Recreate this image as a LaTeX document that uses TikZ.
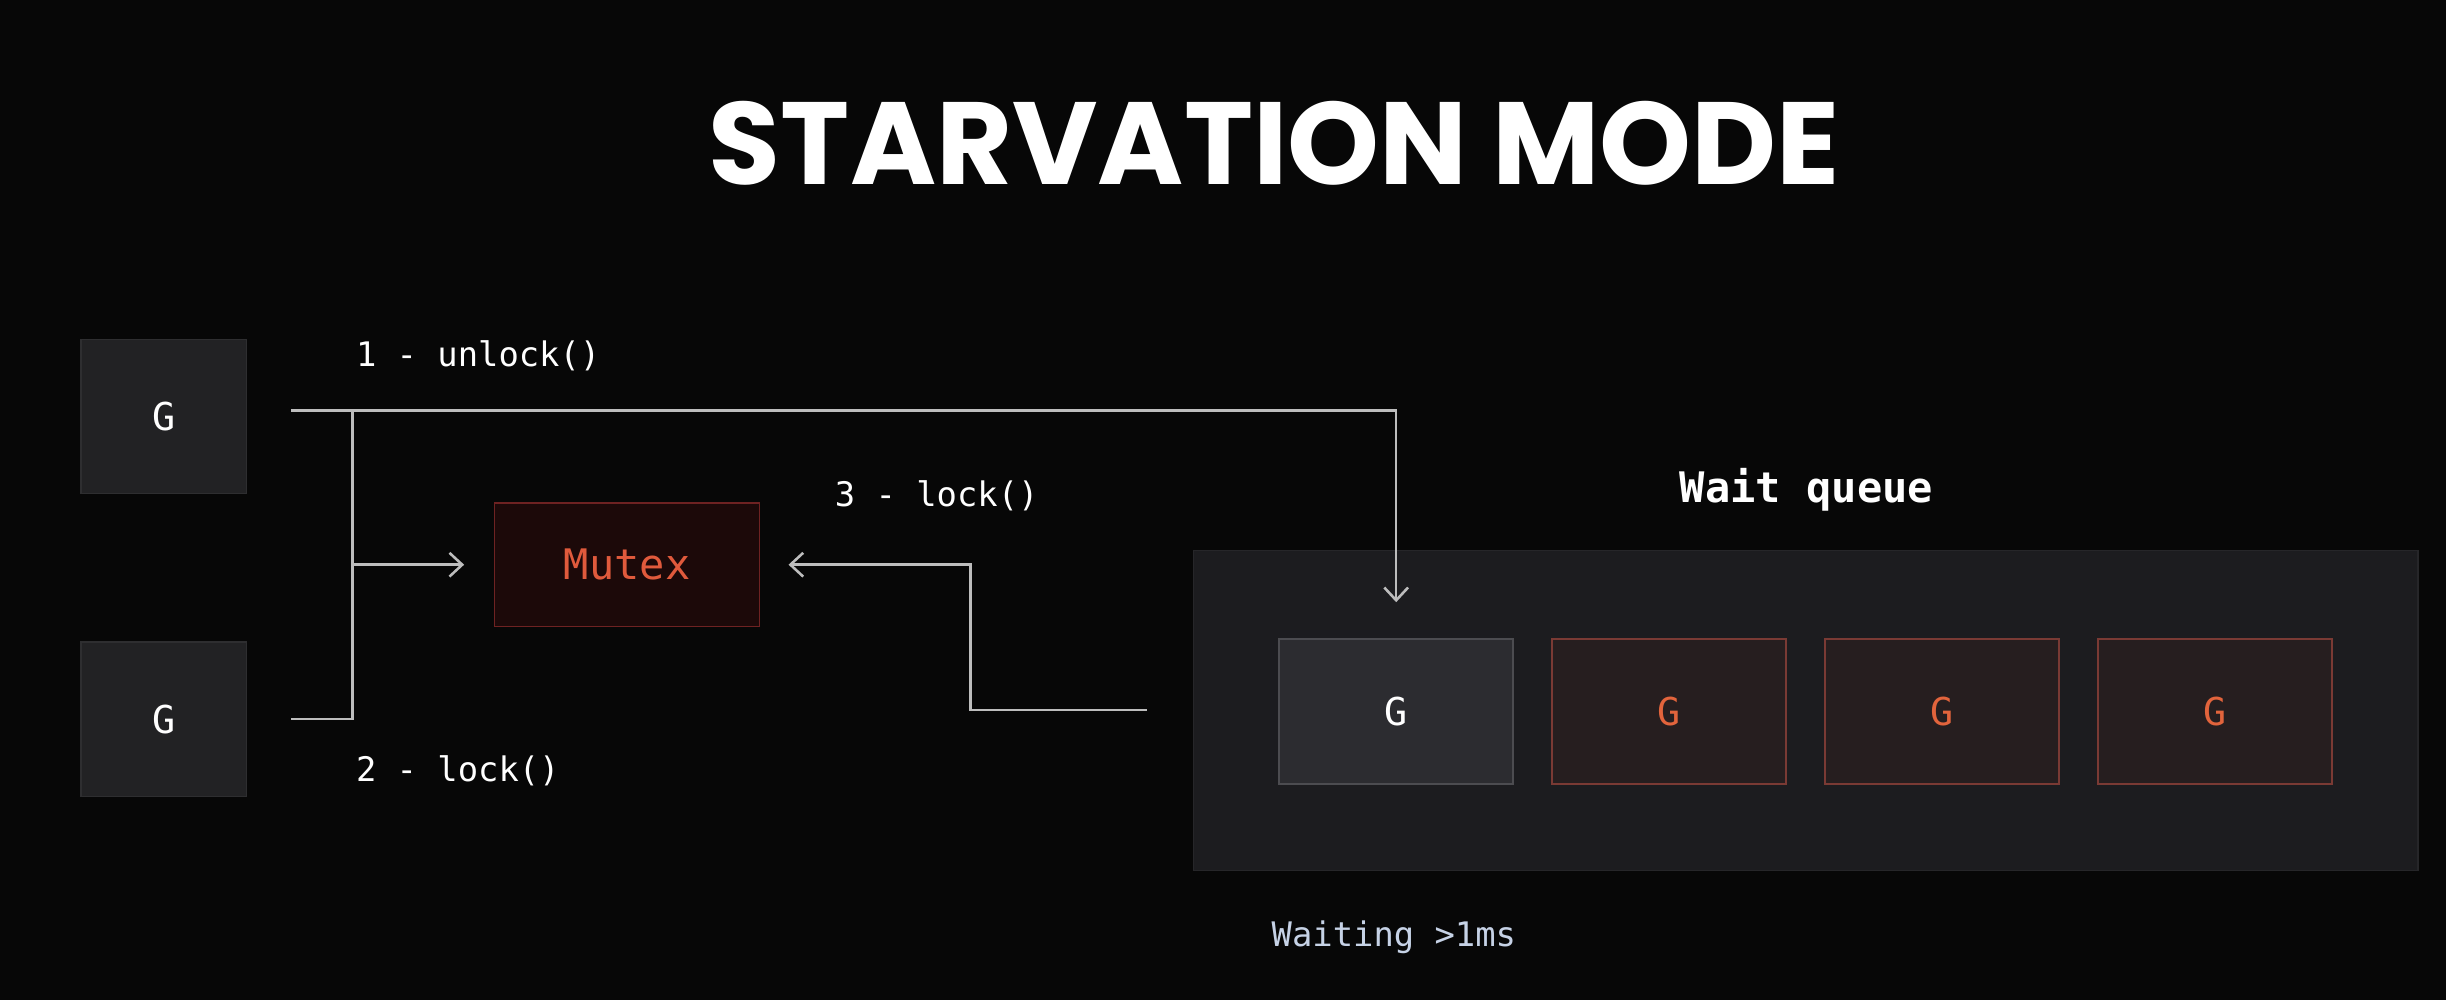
\documentclass[tikz,border=0pt]{standalone}
\usepackage{fontspec}
\setmainfont{Poppins}
\setmonofont{DejaVu Sans Mono}
\usetikzlibrary{arrows.meta,calc}
\definecolor{bgc}{HTML}{070707}
\definecolor{lnc}{HTML}{BDBDBD}
\definecolor{gfill}{HTML}{222224}
\definecolor{gdraw}{HTML}{2E2E30}
\definecolor{mfill}{HTML}{1C0909}
\definecolor{mdraw}{HTML}{6E2222}
\definecolor{mtext}{HTML}{E05A3C}
\definecolor{wfill}{HTML}{1C1C1F}
\definecolor{wdraw}{HTML}{262629}
\definecolor{q1fill}{HTML}{2C2C30}
\definecolor{q1draw}{HTML}{4C4C50}
\definecolor{qrfill}{HTML}{261E1F}
\definecolor{qrdraw}{HTML}{7A3A34}
\definecolor{qrtext}{HTML}{E2643C}
\definecolor{wtext}{HTML}{C6D2E6}
\tikzset{
  gbox/.style={draw=gdraw,fill=gfill,line width=0.8pt,minimum width=3.18cm,minimum height=2.97cm,text=white,font=\ttfamily\fontsize{21}{21}\selectfont},
  mbox/.style={draw=mdraw,fill=mfill,line width=0.8pt,minimum width=5.1cm,minimum height=2.37cm,text=mtext,font=\ttfamily\fontsize{23}{23}\selectfont},
  qfirst/.style={draw=q1draw,fill=q1fill,line width=0.8pt,minimum width=4.5cm,minimum height=2.79cm,text=white,font=\ttfamily\fontsize{21}{21}\selectfont},
  qred/.style={draw=qrdraw,fill=qrfill,line width=0.8pt,minimum width=4.5cm,minimum height=2.79cm,text=qrtext,font=\ttfamily\fontsize{21}{21}\selectfont},
  wbox/.style={draw=wdraw,fill=wfill,line width=0.8pt,minimum width=23.55cm,minimum height=6.15cm},
  lbl/.style={text=white,anchor=west,font=\ttfamily\fontsize{18.5}{18.5}\selectfont,inner sep=0pt},
  ln/.style={draw=lnc,line width=1.4pt},
  arr/.style={ln,-{Straight Barb[length=7pt,width=13pt,line width=1.4pt]}}
}
\begin{document}
\begin{tikzpicture}[x=0.03cm,y=-0.03cm]
\fill[bgc] (0,0) rectangle (1568,641);
\useasboundingbox (0,0) rectangle (1568,641);
% title
\node[text=white,font=\fontsize{64}{64}\selectfont\bfseries] (title) at (817,92) {STARVATION MODE};
% left goroutines
\node[gbox] (g1) at (105,267) {G};
\node[gbox] (g2) at (105,461) {G};
% mutex
\node[mbox] (mutex) at (402,362) {Mutex};
% wait queue
\node[wbox] (waitq) at (1157.5,455.5) {};
\node[text=white,font=\ttfamily\bfseries\fontsize{23}{23}\selectfont] (wql) at (1158,314) {Wait queue};
\node[qfirst] (q1) at (895,456) {G};
\node[qred] (q2) at (1070,456) {G};
\node[qred] (q3) at (1245,456) {G};
\node[qred] (q4) at (1420,456) {G};
% labels
\node[lbl] (l1) at (228,228) {1 - unlock()};
\node[lbl] (l2) at (228,494) {2 - lock()};
\node[lbl] (l3) at (535,318) {3 - lock()};
\node[text=wtext,anchor=west,inner sep=0pt,font=\ttfamily\fontsize{18.5}{18.5}\selectfont] (wait) at (815,601) {Waiting >1ms};
% connectors
\coordinate (s1) at ($(g1.east)+(28,-4)$);
\coordinate (s2) at ($(g2.east)+(28,0)$);
\coordinate (j1) at (226,263);
\coordinate (j2) at (226,461);
\coordinate (jm) at (226,362);
\coordinate (r0) at (735,455);
\coordinate (r1) at (622,455);
\draw[arr,shorten >=0.69cm] (s1) -| (q1.north);
\draw[ln] (j1) -- (j2) -- (s2);
\draw[arr,shorten >=0.57cm] (jm) -- (mutex.west);
\draw[arr,shorten >=0.54cm] (r0) -- (r1) |- (mutex.east);
\end{tikzpicture}
\end{document}
